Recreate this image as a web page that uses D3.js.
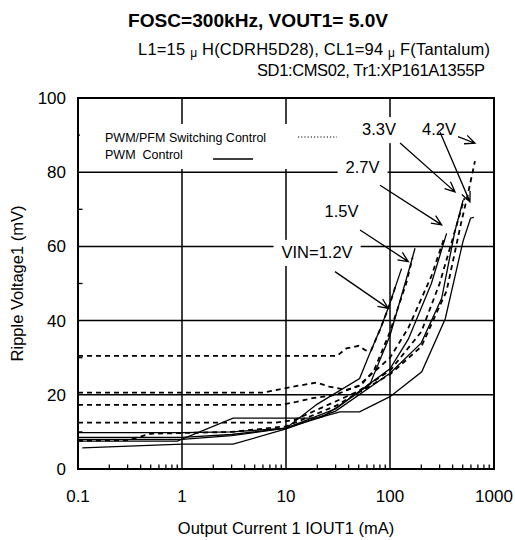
<!DOCTYPE html>
<html>
<head>
<meta charset="utf-8">
<script src="https://cdn.jsdelivr.net/npm/d3@7/dist/d3.min.js"></script>
<style>
  body { margin: 0; background: #fff; }
  svg { display: block; font-family: "Liberation Sans", Arial, sans-serif; }
  text { fill: #000; }
</style>
</head>
<body>
<div id="chart"></div>
<script>
// -------- Data: [IOUT1 (mA), Ripple (mV)] --------
const xTicks = [0.1, 1, 10, 100, 1000];
const yTicks = [0, 20, 40, 60, 80, 100];

// PWM control (solid)
const pwm12 = [[0.1, 9.8], [1, 9.8], [3, 10], [10, 11], [20, 17.5], [51, 24.4], [64, 31.2], [80, 37.5], [96, 43.3], [129, 54]];
const pwm15 = [[0.1, 8.5], [1, 8.5], [3, 9.3], [10, 11], [22.7, 14.1], [64, 22.8], [100, 36], [157, 55], [174, 59.5]];
const pwm27 = [[0.1, 8], [1, 8], [3, 9], [10, 11], [30, 16.2], [100, 27], [150, 35], [250, 50], [350, 63.5]];
const pwm33 = [[0.11, 5.7], [1, 6.7], [3.1, 6.7], [10, 10.8], [30, 15.6], [100, 25.8], [200, 34], [314, 46], [420, 64], [505, 72.5]];
const pwm42 = [[0.1, 7.5], [0.9, 7.5], [3.1, 13.7], [20, 13.7], [33, 15.4], [51, 15.4], [100, 19.5], [202, 26.2], [340, 40.5], [505, 61.5], [595, 67.6], [640, 67.8]];

// PWM/PFM switching control (dotted)
const pfm12 = [[0.1, 30.5], [31, 30.5], [38, 32.5], [50, 33.2], [58, 32], [66, 32], [80, 37.5], [100, 44.5], [115, 50]];
const pfm15 = [[0.1, 20.6], [6, 20.6], [11.7, 22.2], [19.7, 23.3], [26, 22.2], [38, 21.3], [52, 22.5], [70, 26.5], [100, 37], [143, 50], [165, 57]];
const pfm27 = [[0.1, 17.3], [9, 17.3], [12.6, 18.1], [18, 19.1], [30, 20], [50, 22.5], [100, 30], [150, 38], [250, 52], [330, 62]];
const pfm33 = [[0.1, 12.5], [8, 12.5], [12, 13.2], [20, 16], [50, 21], [100, 26.5], [200, 37], [300, 50], [440, 66], [520, 73]];
const pfm42 = [[0.1, 7.6], [0.3, 7.8], [0.5, 9.5], [3, 10], [10, 11.5], [30, 17], [100, 25.5], [200, 33], [350, 48], [480, 66], [560, 74], [656, 83]];

const pwmSeries = [pwm12, pwm15, pwm27, pwm33, pwm42];
const pfmSeries = [pfm12, pfm15, pfm27, pfm33, pfm42];

// VIN annotations (data coords)
const labelText = ['VIN=1.2V', '1.5V', '2.7V', '3.3V', '4.2V'];
const labelAt   = [[19.9, 56.9], [34.2, 67.9], [54.5, 79.8], [78.3, 90], [296, 90]];
const arrowFrom = [[29.6, 53.2], [51.5, 64.4], [80.2, 76.5], [125, 87.9], [303, 90.8], [451, 89.6]];
const arrowTo   = [[96.4, 43.3], [150, 55.9], [314, 65.8], [422, 74.7], [587, 72], [656, 87.8]];

const legendText = ['PWM/PFM Switching Control', 'PWM  Control'];

// -------- Dimensions --------
const W = 515, H = 540;
const plot = { left: 78, right: 494, top: 98, bottom: 469 };

const svg = d3.select('#chart').append('svg')
  .attr('width', W).attr('height', H);

const x = d3.scaleLog().domain([0.1, 1000]).range([plot.left, plot.right]);
const y = d3.scaleLinear().domain([0, 100]).range([plot.bottom, plot.top]);

// -------- Titles --------
svg.append('text')
  .attr('x', 128).attr('y', 27)
  .attr('font-weight', 'bold').attr('font-size', 19)
  .attr('textLength', 260).attr('lengthAdjust', 'spacingAndGlyphs')
  .text('FOSC=300kHz, VOUT1= 5.0V');

const sub = svg.append('text')
  .attr('x', 138).attr('y', 55)
  .attr('font-size', 16.5)
  .attr('textLength', 352).attr('lengthAdjust', 'spacing');
sub.append('tspan').text('L1=15 ');
sub.append('tspan').attr('font-size', 12).attr('dy', 2).text('μ');
sub.append('tspan').attr('dy', -2).text(' H(CDRH5D28), CL1=94 ');
sub.append('tspan').attr('font-size', 12).attr('dy', 2).text('μ');
sub.append('tspan').attr('dy', -2).text(' F(Tantalum)');

svg.append('text')
  .attr('x', 257).attr('y', 76)
  .attr('font-size', 16.5)
  .attr('textLength', 228).attr('lengthAdjust', 'spacing')
  .text('SD1:CMS02, Tr1:XP161A1355P');

// -------- Grid --------
const grid = svg.append('g').attr('stroke', '#000').attr('stroke-width', 1.5);
grid.selectAll('line.vx')
  .data(xTicks.slice(1, -1))
  .join('line')
    .attr('x1', d => x(d)).attr('x2', d => x(d))
    .attr('y1', plot.top).attr('y2', plot.bottom);
grid.selectAll('line.hy')
  .data(yTicks.slice(1, -1))
  .join('line')
    .attr('x1', plot.left).attr('x2', plot.right)
    .attr('y1', d => y(d)).attr('y2', d => y(d));

// minor ticks (inward)
const minorX = [];
xTicks.slice(0, -1).forEach(dec => { for (let k = 2; k <= 9; k++) minorX.push(dec * k); });
svg.append('g').attr('stroke', '#000').attr('stroke-width', 1.3)
  .selectAll('line')
  .data(minorX)
  .join('line')
    .attr('x1', d => x(d)).attr('x2', d => x(d))
    .attr('y1', plot.bottom).attr('y2', plot.bottom - 4.5);
svg.append('g').attr('stroke', '#000').attr('stroke-width', 1.3)
  .selectAll('line')
  .data([10, 30, 50, 70, 90])
  .join('line')
    .attr('x1', plot.left).attr('x2', plot.left + 4.5)
    .attr('y1', d => y(d)).attr('y2', d => y(d));

// -------- White boxes behind legend and labels --------
const boxLayer = svg.append('g');
boxLayer.append('rect')
  .attr('x', 80).attr('y', 124).attr('width', 262).attr('height', 45)
  .attr('fill', '#fff');

// -------- Curves --------
const line = d3.line().x(d => x(d[0])).y(d => y(d[1]));

svg.append('g')
  .selectAll('path')
  .data(pwmSeries)
  .join('path')
    .attr('d', line)
    .attr('fill', 'none')
    .attr('stroke', '#000')
    .attr('stroke-width', 1.3);

svg.append('g')
  .selectAll('path')
  .data(pfmSeries)
  .join('path')
    .attr('d', line)
    .attr('fill', 'none')
    .attr('stroke', '#000')
    .attr('stroke-width', 1.8)
    .attr('stroke-dasharray', '5,4');

// -------- Frame --------
svg.append('rect')
  .attr('x', plot.left).attr('y', plot.top)
  .attr('width', plot.right - plot.left).attr('height', plot.bottom - plot.top)
  .attr('fill', 'none').attr('stroke', '#000').attr('stroke-width', 2);

// -------- Axis labels --------
svg.append('g')
  .selectAll('text')
  .data(xTicks)
  .join('text')
    .attr('x', d => x(d)).attr('y', 502)
    .attr('text-anchor', 'middle').attr('font-size', 17)
    .text(d => d3.format('~g')(d));

svg.append('g')
  .selectAll('text')
  .data(yTicks)
  .join('text')
    .attr('x', 66).attr('y', d => y(d) + 6)
    .attr('text-anchor', 'end').attr('font-size', 17)
    .text(d => d);

svg.append('text')
  .attr('x', 286).attr('y', 534)
  .attr('text-anchor', 'middle').attr('font-size', 16.5)
  .text('Output Current 1 IOUT1 (mA)');

svg.append('text')
  .attr('transform', `translate(23,${(plot.top + plot.bottom) / 2}) rotate(-90)`)
  .attr('text-anchor', 'middle').attr('font-size', 16.5)
  .text('Ripple Voltage1 (mV)');

// -------- Legend --------
const legend = svg.append('g').attr('font-size', 12.5);
legend.append('text').attr('x', 105).attr('y', 142).text(legendText[0]);
legend.append('text').attr('x', 105).attr('y', 159)
  .attr('xml:space', 'preserve').style('white-space', 'pre').text(legendText[1]);
legend.append('line')
  .attr('x1', 298).attr('x2', 337).attr('y1', 137).attr('y2', 137)
  .attr('stroke', '#000').attr('stroke-width', 1.2).attr('stroke-dasharray', '1.2,2');
legend.append('line')
  .attr('x1', 213).attr('x2', 253).attr('y1', 159).attr('y2', 159)
  .attr('stroke', '#000').attr('stroke-width', 1.3);

// -------- VIN labels (with white boxes) --------
const labels = svg.append('g')
  .selectAll('text')
  .data(labelText)
  .join('text')
    .attr('x', (d, i) => x(labelAt[i][0]))
    .attr('y', (d, i) => y(labelAt[i][1]))
    .attr('text-anchor', 'middle').attr('font-size', 16.5)
    .text(d => d);

labels.each(function () {
  const b = this.getBBox();
  boxLayer.append('rect')
    .attr('x', b.x - 8).attr('y', b.y - 3)
    .attr('width', b.width + 16).attr('height', b.height + 8)
    .attr('fill', '#fff');
});

// -------- Arrows --------
const arrows = svg.append('g').attr('stroke', '#000').attr('stroke-width', 1.3).attr('fill', 'none');
arrowFrom.forEach((f, i) => {
  const x1 = x(f[0]), y1 = y(f[1]);
  const x2 = x(arrowTo[i][0]), y2 = y(arrowTo[i][1]);
  const a = Math.atan2(y2 - y1, x2 - x1);
  const len = 11, sp = 0.42;
  const h1 = [x2 - len * Math.cos(a - sp), y2 - len * Math.sin(a - sp)];
  const h2 = [x2 - len * Math.cos(a + sp), y2 - len * Math.sin(a + sp)];
  arrows.append('path')
    .attr('d', `M${x1},${y1}L${x2},${y2}M${h1[0]},${h1[1]}L${x2},${y2}L${h2[0]},${h2[1]}`);
});
</script>
</body>
</html>
